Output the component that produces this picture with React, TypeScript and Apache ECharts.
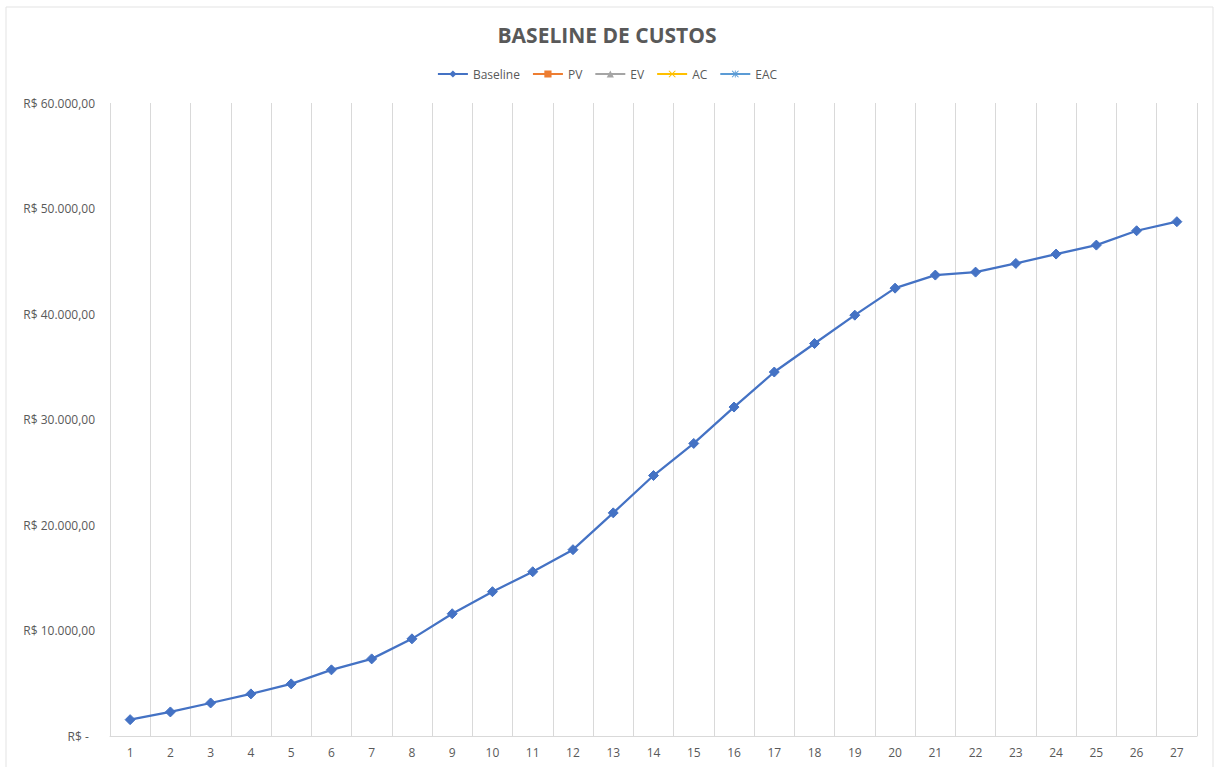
import React, { useEffect, useRef } from "react";
import * as echarts from "echarts";

const periods = ["1","2","3","4","5","6","7","8","9","10","11","12","13","14","15","16","17","18","19","20","21","22","23","24","25","26","27"];
const baseline = [1550, 2280, 3130, 3990, 4940, 6270, 7310, 9210, 11590, 13680, 15570, 17660, 21150, 24690, 27730, 31180, 34500, 37200, 39890, 42450, 43690, 43970, 44790, 45680, 46530, 47890, 48750];
const pv: number[] = [];
const ev: number[] = [];
const ac: number[] = [];
const eac: number[] = [];
const yTicks = [0, 10000, 20000, 30000, 40000, 50000, 60000];

const X_PATH = "path://M1,0 L5,4 L9,0 L10,1 L6,5 L10,9 L9,10 L5,6 L1,10 L0,9 L4,5 L0,1 Z";
const STAR_PATH = "path://M1,0 L5,4 L9,0 L10,1 L6,5 L10,9 L9,10 L5,6 L1,10 L0,9 L4,5 L0,1 Z M4.4,0 L5.6,0 L5.6,10 L4.4,10 Z";

function fmt(v: number): string {
  if (v === 0) return "R$ -  ";
  const int = Math.round(v).toString().replace(/\B(?=(\d{3})+(?!\d))/g, ".");
  return "R$ " + int + ",00";
}

export default function App() {
  const ref = useRef<HTMLDivElement>(null);
  useEffect(() => {
    if (!ref.current) return;
    const chart = echarts.init(ref.current, undefined, { renderer: "svg" });
    const font = "'Open Sans', 'Noto Sans', sans-serif";
    const mk = (name: string, data: number[], color: string, symbol: string, size: number) => ({
      name,
      type: "line",
      data,
      symbol,
      symbolSize: size,
      showSymbol: true,
      lineStyle: { color, width: 2.25 },
      itemStyle: { color, borderColor: color },
    });
    chart.setOption({
      animation: false,
      backgroundColor: "#ffffff",
      title: {
        text: "BASELINE DE CUSTOS",
        left: "center",
        top: 19,
        textStyle: { fontFamily: font, fontSize: 21, fontWeight: "bold", color: "#595959" },
      },
      legend: {
        top: 63,
        left: "center",
        itemWidth: 30,
        itemHeight: 9,
        itemGap: 12,
        textStyle: { fontFamily: font, fontSize: 12, color: "#595959" },
        data: ["Baseline", "PV", "EV", "AC", "EAC"],
      },
      graphic: [
        {
          type: "rect",
          shape: { x: 6, y: 7, width: 1207, height: 770 },
          style: { fill: "none", stroke: "#e3e3e3", lineWidth: 1 },
          silent: true,
        },
      ],
      grid: { left: 110, right: 17, top: 103, bottom: 31, containLabel: false },
      xAxis: {
        type: "category",
        data: periods,
        boundaryGap: true,
        axisLine: { show: true, lineStyle: { color: "#d9d9d9", width: 1 } },
        axisTick: { show: false },
        axisLabel: { fontFamily: font, fontSize: 12, color: "#595959", margin: 10 },
        splitLine: { show: true, lineStyle: { color: "#d9d9d9", width: 1 } },
      },
      yAxis: {
        type: "value",
        min: 0,
        max: 60000,
        interval: 10000,
        axisLine: { show: false },
        axisTick: { show: false },
        splitLine: { show: false },
        axisLabel: {
          fontFamily: font,
          fontSize: 12,
          color: "#595959",
          margin: 15,
          formatter: (v: number) => (yTicks.indexOf(v) >= 0 ? fmt(v) : ""),
        },
      },
      series: [
        mk("Baseline", baseline, "#4472C4", "diamond", 10),
        mk("PV", pv, "#ED7D31", "rect", 8),
        mk("EV", ev, "#A5A5A5", "triangle", 9),
        mk("AC", ac, "#FFC000", X_PATH, 9),
        mk("EAC", eac, "#5B9BD5", STAR_PATH, 9),
      ],
    });
    return () => chart.dispose();
  }, []);
  return (
    <div
      ref={ref}
      style={{ position: "fixed", left: 0, top: 0, width: 1214, height: 767, background: "#fff" }}
    />
  );
}
